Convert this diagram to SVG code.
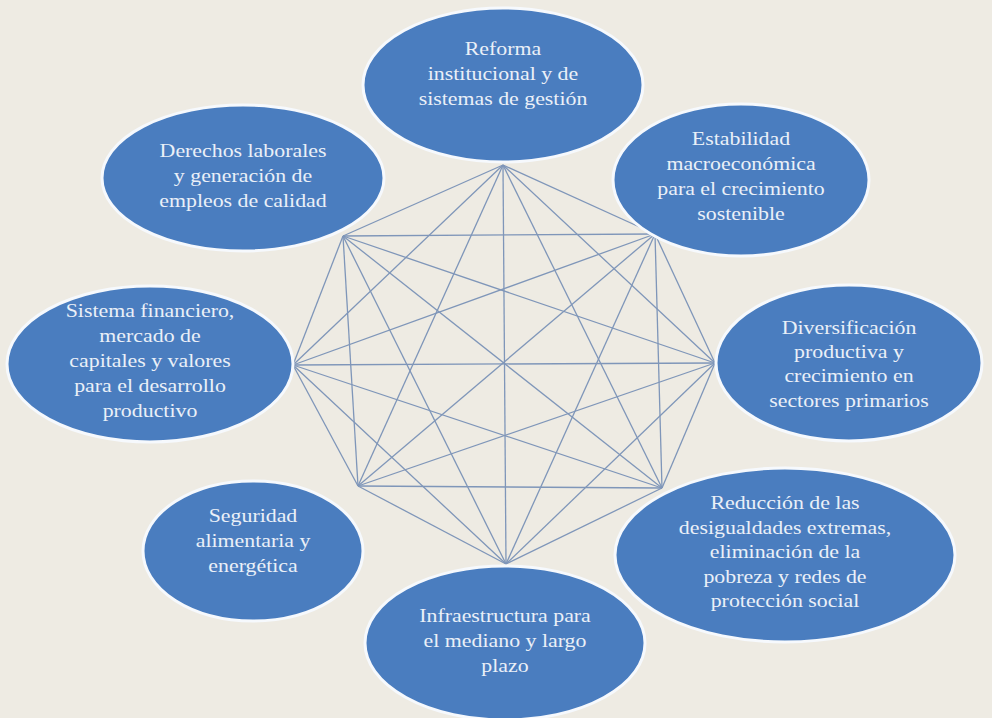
<svg xmlns="http://www.w3.org/2000/svg" width="992" height="718" viewBox="0 0 992 718">
<style>
.bg{fill:#eeebe3}
.node ellipse{fill:#4a7dbf;stroke:#f6f9fd;stroke-width:3}
.node text{font-family:"Liberation Serif","Times New Roman",serif;font-size:19px;fill:#eaf0f8;text-anchor:middle}
.conn line{stroke:#7f96b9;stroke-width:1.3}
</style>
<rect class="bg" x="0" y="0" width="992" height="718"/>
<g id="connectors" class="conn">
<line x1="503" y1="165" x2="655" y2="234"/>
<line x1="503" y1="165" x2="715" y2="363"/>
<line x1="503" y1="165" x2="662" y2="488"/>
<line x1="503" y1="165" x2="506" y2="564"/>
<line x1="503" y1="165" x2="358" y2="486"/>
<line x1="503" y1="165" x2="293" y2="365"/>
<line x1="503" y1="165" x2="343" y2="236"/>
<line x1="655" y1="234" x2="715" y2="363"/>
<line x1="655" y1="234" x2="662" y2="488"/>
<line x1="655" y1="234" x2="506" y2="564"/>
<line x1="655" y1="234" x2="358" y2="486"/>
<line x1="655" y1="234" x2="293" y2="365"/>
<line x1="655" y1="234" x2="343" y2="236"/>
<line x1="715" y1="363" x2="662" y2="488"/>
<line x1="715" y1="363" x2="506" y2="564"/>
<line x1="715" y1="363" x2="358" y2="486"/>
<line x1="715" y1="363" x2="293" y2="365"/>
<line x1="715" y1="363" x2="343" y2="236"/>
<line x1="662" y1="488" x2="506" y2="564"/>
<line x1="662" y1="488" x2="358" y2="486"/>
<line x1="662" y1="488" x2="293" y2="365"/>
<line x1="662" y1="488" x2="343" y2="236"/>
<line x1="506" y1="564" x2="358" y2="486"/>
<line x1="506" y1="564" x2="293" y2="365"/>
<line x1="506" y1="564" x2="343" y2="236"/>
<line x1="358" y1="486" x2="293" y2="365"/>
<line x1="358" y1="486" x2="343" y2="236"/>
<line x1="293" y1="365" x2="343" y2="236"/>
</g>
<g id="node-reforma" class="node">
<ellipse cx="503" cy="85" rx="140" ry="77"/>
<g transform="translate(503 0) scale(1.15 1)">
<text x="0" y="55">Reforma</text>
<text x="0" y="80">institucional  y de</text>
<text x="0" y="105">sistemas de gestión</text>
</g>
</g>
<g id="node-estabilidad" class="node">
<ellipse cx="741" cy="180" rx="128" ry="76"/>
<g transform="translate(741 0) scale(1.15 1)">
<text x="0" y="145">Estabilidad</text>
<text x="0" y="170">macroeconómica</text>
<text x="0" y="195">para el crecimiento</text>
<text x="0" y="220">sostenible</text>
</g>
</g>
<g id="node-diversificacion" class="node">
<ellipse cx="849" cy="363" rx="133" ry="78"/>
<g transform="translate(849 0) scale(1.15 1)">
<text x="0" y="334">Diversificación</text>
<text x="0" y="358">productiva y</text>
<text x="0" y="382">crecimiento  en</text>
<text x="0" y="407">sectores primarios</text>
</g>
</g>
<g id="node-reduccion" class="node">
<ellipse cx="785" cy="555" rx="170" ry="87"/>
<g transform="translate(785 0) scale(1.15 1)">
<text x="0" y="509">Reducción de las</text>
<text x="0" y="534">desigualdades  extremas,</text>
<text x="0" y="558">eliminación  de la</text>
<text x="0" y="583">pobreza y redes de</text>
<text x="0" y="607">protección social</text>
</g>
</g>
<g id="node-infraestructura" class="node">
<ellipse cx="505" cy="643" rx="140" ry="77"/>
<g transform="translate(505 0) scale(1.15 1)">
<text x="0" y="622">Infraestructura para</text>
<text x="0" y="647">el mediano y largo</text>
<text x="0" y="672">plazo</text>
</g>
</g>
<g id="node-seguridad" class="node">
<ellipse cx="253" cy="551" rx="110" ry="70"/>
<g transform="translate(253 0) scale(1.15 1)">
<text x="0" y="522">Seguridad</text>
<text x="0" y="547">alimentaria  y</text>
<text x="0" y="572">energética</text>
</g>
</g>
<g id="node-sistema" class="node">
<ellipse cx="150" cy="364" rx="143" ry="78"/>
<g transform="translate(150 0) scale(1.15 1)">
<text x="0" y="317">Sistema financiero,</text>
<text x="0" y="342">mercado de</text>
<text x="0" y="367">capitales y valores</text>
<text x="0" y="392">para el desarrollo</text>
<text x="0" y="417">productivo</text>
</g>
</g>
<g id="node-derechos" class="node">
<ellipse cx="243" cy="178" rx="141" ry="73"/>
<g transform="translate(243 0) scale(1.15 1)">
<text x="0" y="157">Derechos laborales</text>
<text x="0" y="182">y generación  de</text>
<text x="0" y="207">empleos de calidad</text>
</g>
</g>
</svg>
